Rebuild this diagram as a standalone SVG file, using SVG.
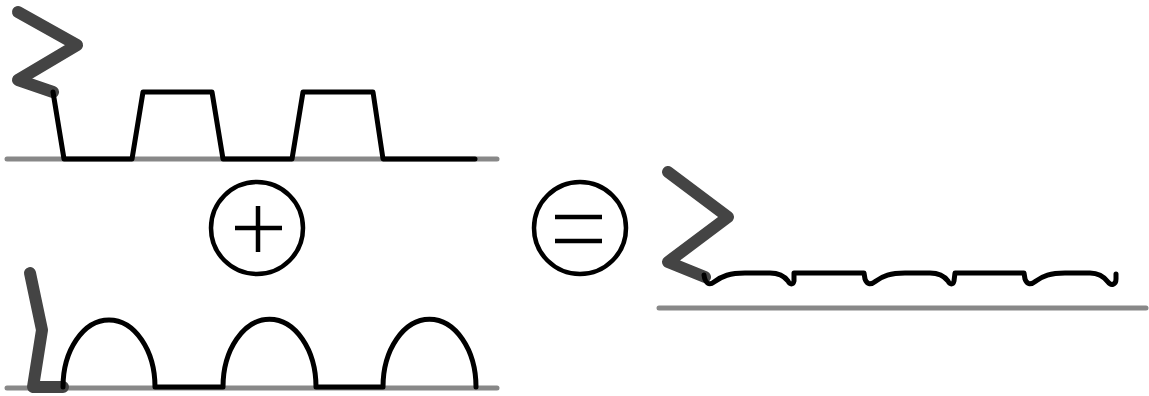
<svg xmlns="http://www.w3.org/2000/svg" width="1149" height="396" viewBox="0 0 1149 396">
<style>
.ground{fill:none;stroke:#888;stroke-width:5;stroke-linecap:round}
.dark{fill:none;stroke:#444;stroke-width:12;stroke-linecap:round;stroke-linejoin:round}
.prof{fill:none;stroke:#000;stroke-width:5;stroke-linecap:round;stroke-linejoin:round}
.sym{fill:none;stroke:#000;stroke-width:4.5}
</style>
<rect width="1149" height="396" fill="#fff"/>
<g id="top-surface">
<line class="ground" x1="7" y1="159" x2="497" y2="159"/>
<polyline class="dark" points="18,12 77,45 18,80 53,92"/>
<polyline class="prof" points="53,92 64,159 132,159 143,92 212,92 223,159 292,159 303,92 373,92 383,159 475,159"/>
</g>
<g id="bottom-surface">
<line class="ground" x1="7" y1="388" x2="497" y2="388"/>
<polyline class="dark" points="30,273 42,330 33,387 63,387"/>
<path class="prof" d="M63,387 A46,67 0 0 1 155,387 L223,387 A46,67 0 0 1 316,387 L383,387 A46,67 0 0 1 476,387"/>
</g>
<g id="plus">
<circle class="sym" cx="257" cy="228" r="46"/>
<line class="sym" x1="235" y1="228" x2="282" y2="228"/>
<line class="sym" x1="258" y1="206" x2="258" y2="252"/>
</g>
<g id="equals">
<circle class="sym" cx="580" cy="228" r="46"/>
<line class="sym" x1="555" y1="217" x2="602" y2="217"/>
<line class="sym" x1="555" y1="241" x2="602" y2="241"/>
</g>
<g id="result-surface">
<line class="ground" x1="659" y1="308" x2="1146" y2="308"/>
<polyline class="dark" points="668,172 728,217 668,262 705,277"/>
<path class="prof" d="M704,275 C705,283 709,286 714,282 C722,276 730,273 745,273 L770,273 C780,273 785,277 788,281 C790,285 793,285 794,281 L794,273 L864,273 L865,279 C867,285 871,285 876,281 C883,276 890,273 905,273 L930,273 C940,273 945,277 948,281 C950,285 953,285 954,281 L955,273 L1024,273 L1025,279 C1027,285 1031,285 1036,281 C1043,276 1050,273 1065,273 L1090,273 C1100,273 1105,278 1108,282 C1111,286 1116,285 1116,279 L1116,274"/>
</g>
</svg>
